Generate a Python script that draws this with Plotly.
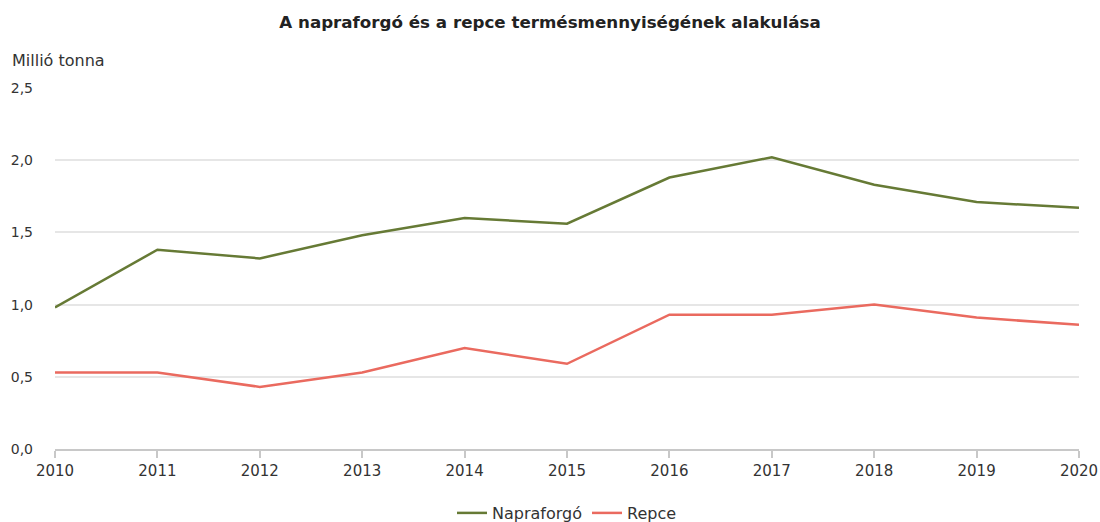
import plotly.graph_objects as go

years = [2010, 2011, 2012, 2013, 2014, 2015, 2016, 2017, 2018, 2019, 2020]
napraforgo = [0.98, 1.38, 1.32, 1.48, 1.60, 1.56, 1.88, 2.02, 1.83, 1.71, 1.67]
repce = [0.53, 0.53, 0.43, 0.53, 0.70, 0.59, 0.93, 0.93, 1.00, 0.91, 0.86]
y_ticks = [0, 0.5, 1.0, 1.5, 2.0, 2.5]
y_ticktext = ["0,0", "0,5", "1,0", "1,5", "2,0", "2,5"]

FONT = "DejaVu Sans"

fig = go.Figure()
fig.add_trace(go.Scatter(x=years, y=napraforgo, mode="lines", name="Napraforgó",
                         line=dict(color="#667a35", width=2.5)))
fig.add_trace(go.Scatter(x=years, y=repce, mode="lines", name="Repce",
                         line=dict(color="#ea6a5f", width=2.5)))

fig.update_layout(
    width=1100, height=522,
    margin=dict(l=55, r=21, t=88, b=73, autoexpand=False),
    paper_bgcolor="white", plot_bgcolor="white",
    font=dict(family=FONT, size=14, color="#333333"),
    title=dict(text="<b>A napraforgó és a repce termésmennyiségének alakulása</b>",
               x=0.5, xanchor="center", y=1 - 22/522, yanchor="middle",
               font=dict(family=FONT, size=16.7, color="#222222")),
    showlegend=True,
    legend=dict(orientation="h", x=0.5, xanchor="center", y=-(513-449)/361, yanchor="middle",
                font=dict(family=FONT, size=16, color="#333333"), itemwidth=30),
    annotations=[dict(text="Millió tonna", xref="paper", yref="paper",
                      x=-45/1024, xanchor="left", y=(449-60)/361, yanchor="middle",
                      showarrow=False, font=dict(family=FONT, size=16, color="#333333"))],
)
fig.update_xaxes(range=[2010, 2020], tickvals=years, showgrid=False, automargin=False,
                 showline=True, linecolor="#c8c8c8", linewidth=1.5,
                 ticks="outside", ticklen=7, tickcolor="#c8c8c8", tickwidth=1.5,
                 tickfont=dict(family=FONT, size=15, color="#333333"), zeroline=False)
fig.update_yaxes(range=[0, 2.5], tickvals=y_ticks, ticktext=y_ticktext, automargin=False,
                 showgrid=True, gridcolor="#e6e6e6", gridwidth=1.5, zeroline=False,
                 showline=False, ticks="", ticklabelstandoff=21,
                 tickfont=dict(family=FONT, size=14, color="#333333"))

fig.write_html("out.html", config={"displayModeBar": False},
               post_script="document.body.style.margin='0';document.body.style.overflow='hidden';")
